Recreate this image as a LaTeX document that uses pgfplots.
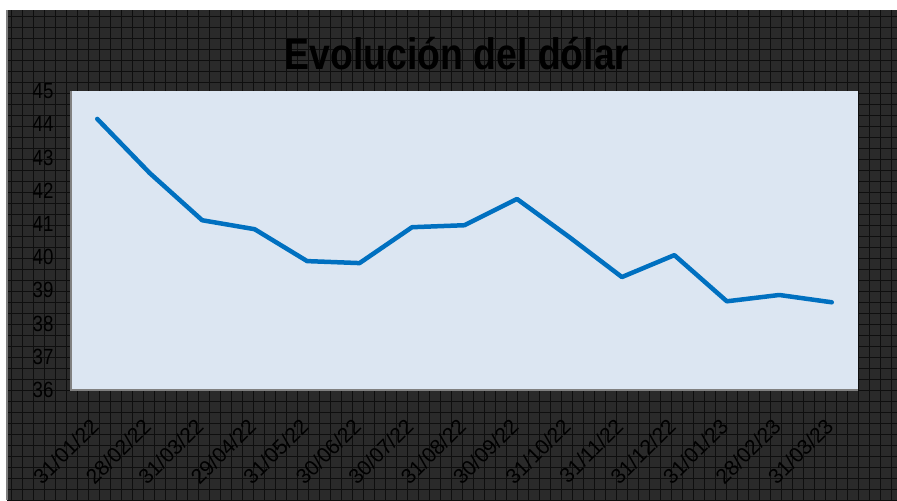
\documentclass[border=0pt]{standalone}
\usepackage{pgfplots}
\pgfplotsset{compat=1.18}
\usepackage{fontspec}
\setmainfont{Liberation Sans}
\newfontfamily\narrow[FakeStretch=0.85]{Liberation Sans}
\definecolor{bgdark}{HTML}{2A2A2A}
\definecolor{gridc}{HTML}{0E0E0E}
\definecolor{plotbg}{HTML}{DCE6F2}
\definecolor{lineblue}{HTML}{0070C0}
\begin{document}
\begin{tikzpicture}[x=1pt,y=1pt]
\fill[white] (0,0) rectangle (897,500);
\fill[bgdark] (7,0) rectangle (897,490);
\begin{scope}
\clip (7,0) rectangle (897,490);
\draw[gridc, line width=0.8pt] (7,0) grid[step=11] (897,490);
\end{scope}
\draw[gray, line width=1.5pt] (7,0) -- (7,490);
\node[font=\narrow\bfseries\fontsize{44}{44}\selectfont, text=black] at (457,446) {Evolución del dólar};
\begin{axis}[at={(71pt,110pt)}, anchor=south west, scale only axis, width=787pt, height=299pt,
 xmin=-0.5, xmax=14.5, ymin=36, ymax=45, ytick={36,...,45}, xtick={0,...,14},
 xticklabels={31/01/22,28/02/22,31/03/22,29/04/22,31/05/22,30/06/22,30/07/22,31/08/22,30/09/22,31/10/22,31/11/22,31/12/22,31/01/23,28/02/23,31/03/23},
 axis background/.style={fill=plotbg}, axis line style={draw=none}, major tick length=0pt,
 yticklabel style={font=\narrow\fontsize{22}{22}\selectfont, text=black, xshift=-14pt},
 xticklabel style={font=\fontsize{21}{21}\selectfont, text=black, yshift=-30pt, rotate=45, anchor=east},
 /pgf/number format/assume math mode=true,
 clip=false]
\addplot[lineblue, line width=4.5pt, line join=round, line cap=round] coordinates {
(0,44.16) (1,42.53) (2,41.11) (3,40.84) (4,39.88) (5,39.82) (6,40.90) (7,40.96)
(8,41.75) (9,40.60) (10,39.40) (11,40.06) (12,38.67) (13,38.86) (14,38.64)};
\draw[gray, line width=2.5pt] (rel axis cs:0,1) -- (rel axis cs:0,0) -- (rel axis cs:1,0);
\end{axis}
\end{tikzpicture}
\end{document}
